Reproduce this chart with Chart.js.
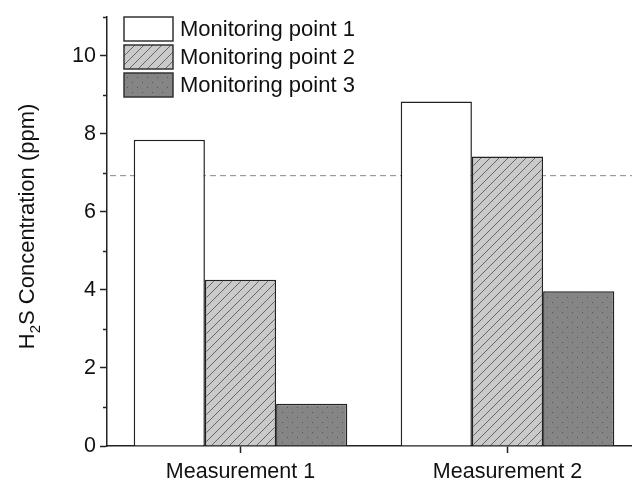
<!DOCTYPE html>
<html lang="en">
<head>
<meta charset="UTF-8">
<title>H2S Concentration</title>
<script src="https://cdn.jsdelivr.net/npm/chart.js"></script>
<style>
  html, body {
    margin: 0;
    padding: 0;
    background: #fff;
    overflow: hidden;
  }
  #chart {
    display: block;
  }
</style>
</head>
<body>
<canvas id="chart" width="645" height="487"></canvas>
<script>
// Data
const categories = ['Measurement 1', 'Measurement 2'];
const seriesLabels = ['Monitoring point 1', 'Monitoring point 2', 'Monitoring point 3'];
const point1 = [7.85, 8.83];
const point2 = [4.26, 7.42];
const point3 = [1.08, 3.97];
const limitValue = 6.93;   // dashed reference line
const yMin = 0;
const yMax = 11;

const FONT = '"Liberation Sans", Arial, sans-serif';

// fill patterns
function hatchPattern() {
  const c = document.createElement('canvas');
  c.width = 9; c.height = 9;
  const g = c.getContext('2d');
  g.fillStyle = '#cacaca';
  g.fillRect(0, 0, 9, 9);
  g.strokeStyle = '#666';
  g.lineWidth = 1;
  g.beginPath();
  g.moveTo(-2, 11); g.lineTo(11, -2);
  g.moveTo(-2, 2); g.lineTo(2, -2);
  g.moveTo(7, 11); g.lineTo(11, 7);
  g.stroke();
  return g.createPattern(c, 'repeat');
}

function dotPattern() {
  const c = document.createElement('canvas');
  c.width = 10; c.height = 10;
  const g = c.getContext('2d');
  g.fillStyle = '#858585';
  g.fillRect(0, 0, 10, 10);
  g.fillStyle = '#555';
  g.fillRect(2, 2, 1, 1);
  g.fillRect(7, 7, 1, 1);
  return g.createPattern(c, 'repeat');
}

// dashed horizontal line behind the bars
const limitLine = {
  id: 'limitLine',
  beforeDatasetsDraw(chart) {
    const { ctx, chartArea, scales } = chart;
    const y = scales.y.getPixelForValue(limitValue);
    ctx.save();
    ctx.strokeStyle = '#888';
    ctx.lineWidth = 1;
    ctx.setLineDash([6, 4]);
    ctx.beginPath();
    ctx.moveTo(chartArea.left + 3, y);
    ctx.lineTo(chartArea.right, y);
    ctx.stroke();
    ctx.restore();
  }
};

// minor ticks on the y axis (odd values)
const minorTicks = {
  id: 'minorTicks',
  afterDraw(chart) {
    const { ctx, scales } = chart;
    const ys = scales.y;
    ctx.save();
    ctx.strokeStyle = '#222';
    ctx.lineWidth = 1.5;
    ys.ticks.forEach(t => {
      if (t.value % 2 === 0) return;
      const y = Math.round(ys.getPixelForValue(t.value)) + 0.5;
      ctx.beginPath();
      ctx.moveTo(ys.right - 4, y);
      ctx.lineTo(ys.right, y);
      ctx.stroke();
    });
    ctx.restore();
  }
};

// y title with a real subscript
const yTitle = {
  id: 'yTitle',
  afterDraw(chart) {
    const { ctx, chartArea } = chart;
    const cy = (chartArea.top + chartArea.bottom) / 2 - 5;
    const parts = [
      { t: 'H', size: 22, dy: 0 },
      { t: '2', size: 15, dy: 6 },
      { t: 'S Concentration (ppm)', size: 22, dy: 0 }
    ];
    ctx.save();
    let total = 0;
    parts.forEach(p => { ctx.font = p.size + 'px ' + FONT; total += ctx.measureText(p.t).width; });
    ctx.translate(26, cy);
    ctx.rotate(-Math.PI / 2);
    ctx.fillStyle = '#111';
    ctx.textBaseline = 'alphabetic';
    let x = -total / 2;
    parts.forEach(p => {
      ctx.font = p.size + 'px ' + FONT;
      ctx.fillText(p.t, x, 8 + p.dy);
      x += ctx.measureText(p.t).width;
    });
    ctx.restore();
  }
};

// legend inside the plot, top left
const boxLegend = {
  id: 'boxLegend',
  afterDraw(chart) {
    const { ctx, chartArea } = chart;
    const x0 = chartArea.left + 17;
    const y0 = 17;
    const bw = 49, bh = 24, step = 28;
    ctx.save();
    chart.data.datasets.forEach((ds, i) => {
      const y = y0 + i * step;
      ctx.fillStyle = ds.backgroundColor;
      ctx.fillRect(x0, y, bw, bh);
      ctx.strokeStyle = '#333';
      ctx.lineWidth = 1.5;
      ctx.strokeRect(x0, y, bw, bh);
      ctx.fillStyle = '#111';
      ctx.font = '22px ' + FONT;
      ctx.textBaseline = 'middle';
      ctx.fillText(ds.label, x0 + bw + 7, y + bh / 2 + 1);
    });
    ctx.restore();
  }
};

const datasets = [point1, point2, point3].map((vals, i) => ({
  label: seriesLabels[i],
  data: vals,
  backgroundColor: [ '#ffffff', hatchPattern(), dotPattern() ][i],
  borderColor: '#222',
  borderWidth: 1.5,
  borderSkipped: 'bottom',
  categoryPercentage: 0.8,
  barPercentage: 1.0
}));

new Chart(document.getElementById('chart'), {
  type: 'bar',
  data: { labels: categories, datasets: datasets },
  plugins: [limitLine, minorTicks, yTitle, boxLegend],
  options: {
    responsive: false,
    animation: false,
    layout: { padding: { top: 15, right: 4, bottom: 0, left: 0 } },
    plugins: {
      legend: { display: false },
      tooltip: { enabled: false }
    },
    scales: {
      x: {
        offset: true,
        afterFit(scale) { scale.height = 41; },
        grid: {
          drawOnChartArea: false,
          offset: false,
          tickLength: 7,
          tickColor: '#222',
          tickWidth: 1.5
        },
        border: { color: '#222', width: 1.5 },
        ticks: {
          color: '#111',
          padding: 6,
          font: { family: FONT, size: 21.5 }
        }
      },
      y: {
        min: yMin,
        max: yMax,
        afterFit(scale) { scale.width = 107; },
        grid: {
          drawOnChartArea: false,
          tickLength: 7,
          tickWidth: 1.5,
          tickColor: ctx => (ctx.tick && ctx.tick.value % 2 !== 0) ? 'rgba(0,0,0,0)' : '#222'
        },
        border: { color: '#222', width: 1.5 },
        ticks: {
          stepSize: 1,
          color: '#111',
          padding: 4,
          font: { family: FONT, size: 21.5 },
          callback: v => (v % 2 === 0 ? v : '')
        }
      }
    }
  }
});
</script>
</body>
</html>
